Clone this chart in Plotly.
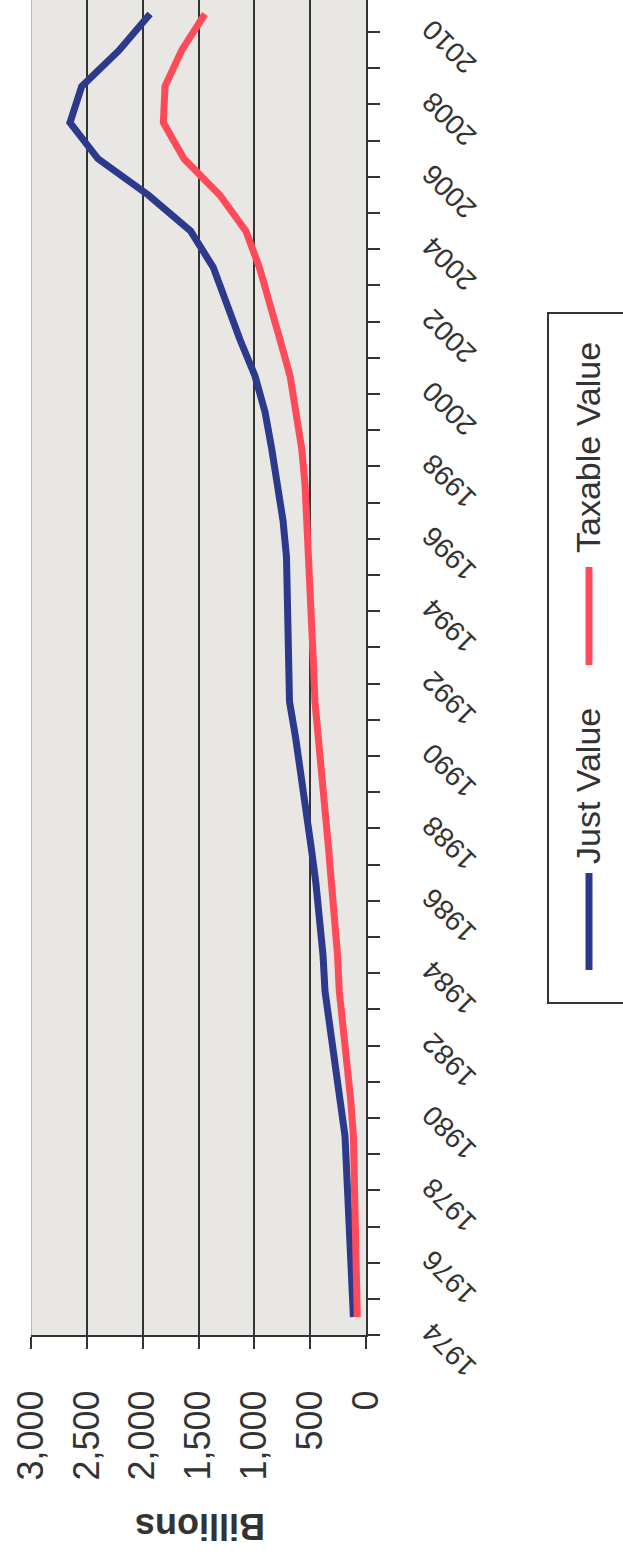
import plotly.graph_objects as go

# Florida property roll, 1974-2010 (billions of dollars)
years = list(range(1974, 2011))
just_value = [113, 128, 143, 158, 173, 188, 233, 278, 337, 367,
              385, 412, 449, 492, 534, 582, 630, 685, 690, 696,
              705, 712, 743, 788, 845, 904, 994, 1128, 1240, 1368,
              1570, 1950, 2400, 2651, 2546, 2210, 1934]
taxable_value = [78, 83, 90, 98, 107, 113, 137, 173, 218, 239,
                 255, 278, 307, 337, 367, 397, 427, 457, 470, 485,
                 500, 510, 525, 546, 576, 621, 680, 770, 865, 955,
                 1075, 1310, 1630, 1815, 1800, 1650, 1442]
value_ticks = [0, 500, 1000, 1500, 2000, 2500, 3000]
year_labels = years[::2]
series_names = ["Just Value", "Taxable Value"]
series_colors = ["#2D3A8C", "#FF4A5A"]

W, H = 623, 1554
ML, MR, MT, MB = 31, 0, 0, 219
PLOT_RIGHT = 366
PW, PH = W - ML - MR, H - MT - MB

FONT = "Liberation Sans, Arial, sans-serif"
INK = "#333333"


def px_x(px):
    return (px - ML) / PW


def px_y(py):
    return (H - MB - py) / PH


fig = go.Figure()
for name, vals, col in zip(series_names, [just_value, taxable_value], series_colors):
    fig.add_trace(go.Scatter(x=vals, y=years, mode="lines", name=name,
                             line=dict(color=col, width=7),
                             showlegend=False))

# empty trace that carries the year-label axis
fig.add_trace(go.Scatter(x=[None] * len(year_labels), y=year_labels, yaxis="y2",
                         mode="lines", showlegend=False, hoverinfo="skip"))

# category range: one slot per year, top slot partly cut by the page edge
y_range = [1973.503, 2010.387]
boundaries = [y - 0.5 for y in years] + [years[-1] + 0.5]

fig.update_layout(
    width=W, height=H,
    margin=dict(l=ML, r=MR, t=MT, b=MB, autoexpand=False),
    paper_bgcolor="white",
    plot_bgcolor="#E9E7E4",
    font=dict(family=FONT, color=INK),
    xaxis=dict(
        domain=[0, (PLOT_RIGHT - ML) / PW],
        range=[3000, 0],
        tickvals=value_ticks,
        tickformat=",",
        tickangle=-90,
        tickfont=dict(size=36, color=INK, family=FONT),
        ticks="outside", ticklen=12, tickwidth=2, tickcolor=INK,
        ticklabelstandoff=27,
        showline=True, linecolor=INK, linewidth=2,
        showgrid=True, gridcolor=INK, gridwidth=2,
        zeroline=False, automargin=False,
    ),
    yaxis=dict(
        range=y_range,
        side="right",
        anchor="x",
        tickvals=boundaries,
        showticklabels=False,
        ticks="outside", ticklen=12, tickwidth=2, tickcolor=INK,
        showline=True, linecolor=INK, linewidth=2,
        showgrid=False, zeroline=False, automargin=False,
    ),
    yaxis2=dict(
        range=y_range,
        overlaying="y",
        side="left",
        anchor="free",
        position=px_x(424),
        tickvals=year_labels,
        ticktext=[str(y) for y in year_labels],
        tickangle=-135,
        tickfont=dict(size=28, color=INK, family=FONT),
        ticklabelshift=18,
        ticklabeloverflow="allow",
        ticks="",
        showline=False, showgrid=False, zeroline=False, automargin=False,
    ),
)

# light frame on the left edge of the plot area
fig.add_shape(type="line", xref="x", yref="paper", x0=3000, x1=3000, y0=0, y1=1,
              line=dict(color="#B8B8B8", width=2), layer="above")

# axis title
fig.add_annotation(text="<b>Billions</b>", xref="paper", yref="paper",
                   x=px_x(200), y=px_y(1527), xanchor="center", yanchor="middle",
                   showarrow=False, textangle=180,
                   font=dict(size=36, color=INK, family=FONT))

# legend box with rotated entries
fig.add_shape(type="rect", xref="paper", yref="paper",
              x0=px_x(548), x1=px_x(640), y0=px_y(1003), y1=px_y(313),
              line=dict(color=INK, width=2), fillcolor="white", layer="above")
legend_spans = [(873, 970), (567, 665)]
legend_text_y = [786, 448]
for name, col, (a, b), ty in zip(series_names, series_colors, legend_spans, legend_text_y):
    fig.add_shape(type="line", xref="paper", yref="paper",
                  x0=px_x(589), x1=px_x(589), y0=px_y(a), y1=px_y(b),
                  line=dict(color=col, width=7), layer="above")
    fig.add_annotation(text=name, xref="paper", yref="paper",
                       x=px_x(588), y=px_y(ty), xanchor="center", yanchor="middle",
                       showarrow=False, textangle=-90,
                       font=dict(size=34, color=INK, family=FONT))

fig.write_html("out.html")
